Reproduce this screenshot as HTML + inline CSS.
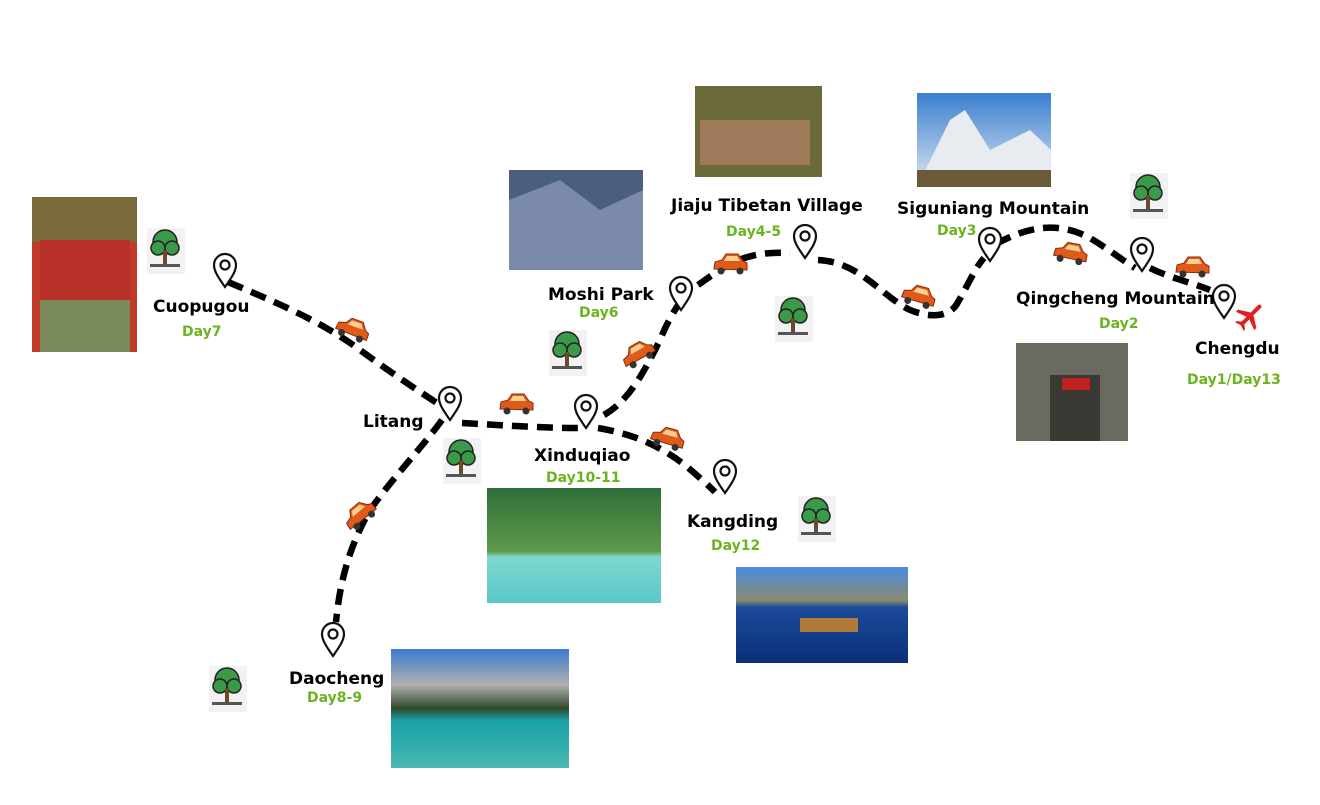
<!DOCTYPE html>
<html><head><meta charset="utf-8"><style>
body{margin:0;background:#fff;width:1320px;height:800px;overflow:hidden}
svg text{font-family:"DejaVu Sans","Liberation Sans",sans-serif;font-weight:bold}
</style></head><body>
<svg width="1320" height="800" viewBox="0 0 1320 800" xmlns="http://www.w3.org/2000/svg">
<defs>
<linearGradient id="sky" x1="0" y1="0" x2="0" y2="1"><stop offset="0" stop-color="#3a7fd0"/><stop offset="1" stop-color="#dfe8f0"/></linearGradient>
<linearGradient id="lake" x1="0" y1="0" x2="0" y2="1"><stop offset="0" stop-color="#2f6e3a"/><stop offset=".55" stop-color="#5f9a4a"/><stop offset=".6" stop-color="#7fd8d0"/><stop offset="1" stop-color="#5ac8c8"/></linearGradient>
<linearGradient id="kd" x1="0" y1="0" x2="0" y2="1"><stop offset="0" stop-color="#4a8be0"/><stop offset=".35" stop-color="#8a8a70"/><stop offset=".42" stop-color="#1a4a9a"/><stop offset="1" stop-color="#0a3078"/></linearGradient>
<linearGradient id="dc" x1="0" y1="0" x2="0" y2="1"><stop offset="0" stop-color="#3a7ad0"/><stop offset=".3" stop-color="#b0b0b0"/><stop offset=".5" stop-color="#2d4a2a"/><stop offset=".6" stop-color="#1aa0a8"/><stop offset="1" stop-color="#4ab8b0"/></linearGradient>
<g id="pin"><path d="M0,0 C-7,-10 -11,-16 -11,-22 A11,11 0 1 1 11,-22 C11,-16 7,-10 0,0Z" fill="#fff" stroke="#111" stroke-width="2.2"/><circle cx="0" cy="-22" r="4.5" fill="none" stroke="#111" stroke-width="2.2"/></g>
<g id="tree"><rect x="-18" y="-22" width="38" height="46" fill="#f2f2f2"/><circle cx="0" cy="-8" r="12" fill="#3a9a4a" stroke="#222" stroke-width="1.5"/><circle cx="-7" cy="-2" r="7" fill="#3a9a4a" stroke="#222" stroke-width="1.5"/><circle cx="7" cy="-2" r="7" fill="#3a9a4a" stroke="#222" stroke-width="1.5"/><rect x="-2" y="0" width="4" height="14" fill="#6b4a2a"/><rect x="-15" y="14" width="30" height="3" fill="#555"/></g>
<g id="car"><path d="M-16,4 L-15,-3 L-8,-5 L-4,-11 L8,-11 L13,-4 L17,-2 L17,5 Z" fill="#e05a1a" stroke="#8a2a0a" stroke-width="1"/><path d="M-3,-9 L7,-9 L10,-4 L-6,-4Z" fill="#ffd090"/><circle cx="-9" cy="6" r="3.5" fill="#333"/><circle cx="10" cy="6" r="3.5" fill="#333"/></g>
</defs>

<rect x="32" y="197" width="105" height="155" fill="#c03a2a"/>
<rect x="32" y="197" width="105" height="45" fill="#7a6a3a"/>
<rect x="40" y="240" width="90" height="60" fill="#b83028"/>
<rect x="40" y="300" width="90" height="52" fill="#7a8a5a"/>
<rect x="509" y="170" width="134" height="100" fill="#4a5e80"/>
<path d="M509,200 L560,180 L600,210 L643,190 L643,270 L509,270Z" fill="#7a8aa8"/>
<rect x="695" y="86" width="127" height="91" fill="#6a6a3a"/>
<rect x="700" y="120" width="110" height="45" fill="#a07a5a"/>
<rect x="917" y="93" width="134" height="94" fill="url(#sky)"/>
<path d="M917,187 L950,120 L965,110 L990,150 L1030,130 L1051,150 L1051,187Z" fill="#e8ecf0"/>
<rect x="917" y="170" width="134" height="17" fill="#6a5a3a"/>
<rect x="1016" y="343" width="112" height="98" fill="#6a6a60"/>
<rect x="1050" y="375" width="50" height="66" fill="#3a3a34"/>
<rect x="1062" y="378" width="28" height="12" fill="#c02020"/>
<rect x="487" y="488" width="174" height="115" fill="url(#lake)"/>
<rect x="736" y="567" width="172" height="96" fill="url(#kd)"/>
<rect x="800" y="618" width="58" height="14" fill="#b07a3a"/>
<rect x="391" y="649" width="178" height="119" fill="url(#dc)"/>

<g fill="none" stroke="#000" stroke-width="6.5" stroke-dasharray="16 9">
<path d="M228,282 C270,300 320,320 360,350 C390,372 420,392 440,405"/>
<path d="M442,420 C420,450 395,475 370,510 C350,545 340,580 336,622"/>
<path d="M462,423 C500,425 540,428 578,428"/>
<path d="M604,415 C630,400 645,370 660,340 C668,320 675,310 680,302"/>
<path d="M698,285 C720,270 740,250 790,253"/>
<path d="M818,260 C860,262 880,295 910,310 C930,318 950,318 958,302 C968,285 975,268 984,258"/>
<path d="M996,244 C1030,225 1060,222 1090,238 C1110,250 1125,262 1135,268"/>
<path d="M1150,268 C1170,278 1190,282 1210,290"/>
<path d="M598,428 C640,435 665,450 685,465 C700,478 708,485 715,492"/>
</g>

<use href="#pin" x="225" y="287"/>
<use href="#pin" x="450" y="420"/>
<use href="#pin" x="586" y="428"/>
<use href="#pin" x="681" y="310"/>
<use href="#pin" x="805" y="258"/>
<use href="#pin" x="990" y="261"/>
<use href="#pin" x="1142" y="271"/>
<use href="#pin" x="1224" y="318"/>
<use href="#pin" x="725" y="493"/>
<use href="#pin" x="333" y="656"/>

<use href="#tree" x="165" y="250"/>
<use href="#tree" x="567" y="352"/>
<use href="#tree" x="461" y="460"/>
<use href="#tree" x="793" y="318"/>
<use href="#tree" x="1148" y="195"/>
<use href="#tree" x="816" y="518"/>
<use href="#tree" x="227" y="688"/>

<use href="#car" x="352" y="330" transform="rotate(20 352 330)"/>
<use href="#car" x="516" y="405"/>
<use href="#car" x="638" y="355" transform="rotate(-30 638 355)"/>
<use href="#car" x="730" y="265"/>
<use href="#car" x="918" y="297" transform="rotate(15 918 297)"/>
<use href="#car" x="1070" y="254" transform="rotate(10 1070 254)"/>
<use href="#car" x="1192" y="268"/>
<use href="#car" x="667" y="439" transform="rotate(15 667 439)"/>
<use href="#car" x="360" y="516" transform="rotate(-40 360 516)"/>

<g transform="translate(1250,316) rotate(45)" fill="#e02020">
<path d="M-2,-14 Q0,-17 2,-14 L2,-3 L13,4 L13,7 L2,3 L2,10 L6,13 L6,15 L0,13 L-6,15 L-6,13 L-2,10 L-2,3 L-13,7 L-13,4 L-2,-3 Z"/>
</g>

<g font-size="17" fill="#000">
<text x="153" y="312">Cuopugou</text>
<text x="363" y="427">Litang</text>
<text x="548" y="300">Moshi Park</text>
<text x="671" y="211">Jiaju Tibetan Village</text>
<text x="897" y="214">Siguniang Mountain</text>
<text x="1016" y="304">Qingcheng Mountain</text>
<text x="1195" y="354">Chengdu</text>
<text x="534" y="461">Xinduqiao</text>
<text x="687" y="527">Kangding</text>
<text x="289" y="684">Daocheng</text>
</g>
<g font-size="14" fill="#6ab41e">
<text x="182" y="336">Day7</text>
<text x="579" y="317">Day6</text>
<text x="726" y="236">Day4-5</text>
<text x="937" y="235">Day3</text>
<text x="1099" y="328">Day2</text>
<text x="1187" y="384">Day1/Day13</text>
<text x="546" y="482">Day10-11</text>
<text x="711" y="550">Day12</text>
<text x="307" y="702">Day8-9</text>
</g>
</svg>
</body></html>
